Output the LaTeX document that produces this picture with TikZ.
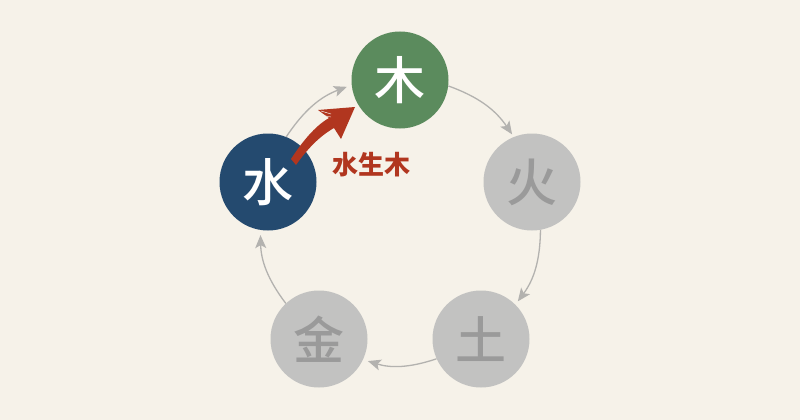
\documentclass[tikz,border=0pt]{standalone}
\usepackage{fontspec}
\newfontfamily\cjk{Noto Sans CJK SC}
\newfontfamily\cjkm{Noto Sans CJK SC}[UprightFont={* Medium}]
\usetikzlibrary{arrows.meta}
\definecolor{bg}{HTML}{F6F2E9}
\definecolor{woodc}{HTML}{5B8B5D}
\definecolor{waterc}{HTML}{244A6F}
\definecolor{grayc}{HTML}{C2C2C1}
\definecolor{graytxt}{HTML}{9A9A9A}
\definecolor{arrowc}{HTML}{B3B2AF}
\definecolor{redc}{HTML}{B1361F}
\tikzset{
  elem/.style={circle, minimum size=97pt, inner sep=0pt, font=\cjkm\fontsize{51}{51}\selectfont},
  active/.style={elem, text=white},
  inactive/.style={elem, fill=grayc, text=graytxt},
  cyc/.style={draw=arrowc, line width=1.3pt, -{Stealth[length=13pt,width=11pt,inset=3pt]}, bend left=18},
}
\begin{document}
\begin{tikzpicture}[x=1pt,y=-1pt]
\fill[bg] (0,0) rectangle (800,420);
\useasboundingbox (0,0) rectangle (800,420);
\node[active, fill=woodc] (mu) at (400,80) {木};
\node[inactive] (huo) at (532,182) {火};
\node[inactive] (tu) at (481,339) {土};
\node[inactive] (jin) at (319,339) {金};
\node[active, fill=waterc] (shui) at (268,182) {水};
\draw[cyc, shorten >=3pt] (mu.-7) to (huo.112);
\draw[cyc, shorten >=4pt] (huo.-80) to (tu.45);
\draw[cyc, shorten >=5pt] (tu.204) to (jin.-25);
\draw[cyc, shorten >=5pt] (jin.133) to (shui.-99);
\draw[cyc, shorten >=5pt] (shui.68) to (mu.186);
\fill[redc] (296,165) .. controls (308,148) and (320,136) .. (334,128) -- (341,139) -- (355,107) -- (318,110) -- (329,118) .. controls (315,126) and (302,142) .. (291,159) -- cycle;
\draw[bg, line width=0.5pt] (321,111) -- (331,114);
\draw[bg, line width=0.4pt] (323,115.5) -- (331,117);
\node[text=redc, font=\cjk\bfseries\fontsize{26}{26}\selectfont] (lbl) at (371,165) {水生木};
\end{tikzpicture}
\end{document}
